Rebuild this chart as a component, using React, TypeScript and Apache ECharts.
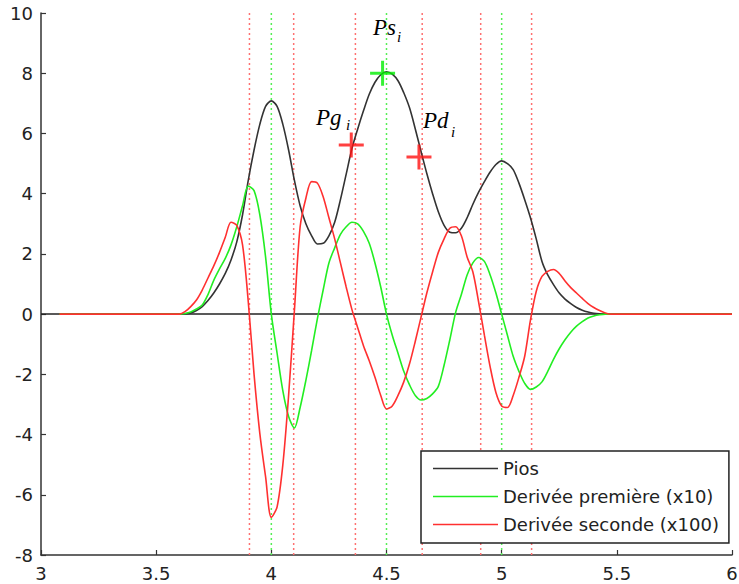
import React, { useEffect, useRef } from "react";
import * as echarts from "echarts";

// x positions (shared by the three curves)
const xs = [
  3.08,
  3.6, 3.625, 3.65, 3.675, 3.7, 3.725, 3.75, 3.775, 3.8, 3.825,
  3.85, 3.875, 3.9, 3.925, 3.95, 3.975, 4.0, 4.025, 4.05, 4.075,
  4.1, 4.125, 4.15, 4.175, 4.2, 4.225, 4.25, 4.275, 4.3, 4.325,
  4.35, 4.375, 4.4, 4.425, 4.45, 4.475, 4.5, 4.525, 4.55, 4.575,
  4.6, 4.625, 4.65, 4.675, 4.7, 4.725, 4.75, 4.775, 4.8, 4.825,
  4.85, 4.875, 4.9, 4.925, 4.95, 4.975, 5.0, 5.025, 5.05, 5.075,
  5.1, 5.125, 5.15, 5.175, 5.2, 5.225, 5.25, 5.275, 5.3, 5.325,
  5.35, 5.375, 5.4, 5.425, 5.45, 5.475,
  6.0,
];

const pios = [
  0,
  0, 0.01, 0.04, 0.12, 0.25, 0.45, 0.7, 1.0, 1.35, 1.8,
  2.4, 3.3, 4.45, 5.45, 6.3, 6.9, 7.08, 6.9, 6.3, 5.45,
  4.45, 3.6, 3.0, 2.6, 2.33, 2.35, 2.6, 3.05, 3.8, 4.65,
  5.5, 6.15, 6.75, 7.3, 7.7, 7.95, 8.05, 7.97, 7.75, 7.35,
  6.85, 6.15, 5.4, 4.67, 4.0, 3.4, 2.95, 2.72, 2.7, 2.85,
  3.2, 3.65, 4.05, 4.4, 4.72, 4.97, 5.09, 5.0, 4.8, 4.35,
  3.8, 3.2, 2.5, 1.75, 1.3, 0.98, 0.7, 0.5, 0.35, 0.22,
  0.13, 0.07, 0.03, 0.01, 0, 0,
  0,
];

const derivee1 = [
  0,
  0, 0.02, 0.07, 0.17, 0.3, 0.65, 1.12, 1.5, 1.85, 2.3,
  2.9, 3.6, 4.25, 4.1, 3.3, 1.9, 0, -1.3, -2.55, -3.4,
  -3.78, -3.1, -2.2, -1.2, -0.15, 0.8, 1.7, 2.2, 2.65, 2.9,
  3.05, 3.0, 2.75, 2.35, 1.7, 0.9, 0, -0.7, -1.3, -1.9,
  -2.35, -2.7, -2.85, -2.8, -2.65, -2.4, -1.7, -0.85, 0.05, 0.65,
  1.3, 1.7, 1.88, 1.75, 1.3, 0.7, 0, -0.7, -1.4, -1.9,
  -2.3, -2.5, -2.42, -2.25, -1.9, -1.5, -1.15, -0.85, -0.6, -0.4,
  -0.25, -0.13, -0.06, -0.02, 0, 0,
  0,
];

const derivee2 = [
  0,
  0, 0.08, 0.25, 0.47, 0.8, 1.2, 1.6, 2.05, 2.55, 3.05,
  2.95, 2.3, 0.4, -2.0, -3.96, -5.4, -6.75, -6.4, -5.0, -2.7,
  0.1, 2.9, 3.85, 4.4, 4.35, 3.9, 3.2, 2.5, 1.7, 0.9,
  0.15, -0.45, -1.05, -1.55, -2.1, -2.7, -3.15, -3.05, -2.7, -2.25,
  -1.65, -0.9, -0.1, 0.7, 1.4, 2.05, 2.5, 2.85, 2.9, 2.6,
  1.9, 1.4, 0.4, -0.7, -1.75, -2.6, -3.05, -3.1, -2.7, -2.1,
  -1.4, -0.2, 0.75, 1.25, 1.42, 1.48, 1.35, 1.1, 0.88, 0.7,
  0.52, 0.35, 0.22, 0.12, 0.04, 0,
  0,
];

// vertical dotted guides
const redGuides = [3.905, 4.097, 4.365, 4.655, 4.909, 5.13];
const greenGuides = [4.0, 4.5, 5.0];

// marked points
const markerLabels = ["Ps", "Pg", "Pd"];
const markerX = [4.483, 4.347, 4.641];
const markerY = [8.0, 5.62, 5.22];

const seriesNames = ["Pios", "Derivée première (x10)", "Derivée seconde (x100)"];
const xTicks = [3, 3.5, 4, 4.5, 5, 5.5, 6];

const Y_MIN = -8;
const Y_MAX = 10;

const PLUS = "path://M11,0H14V11H25V14H14V25H11V14H0V11H11Z";
const FONT = "DejaVu Sans";
const SERIF = "Liberation Serif";

export default function App() {
  const ref = useRef<HTMLDivElement>(null);

  useEffect(() => {
    if (!ref.current) return;
    const chart = echarts.init(ref.current, null, { renderer: "svg" });

    const guideSeries = (vals: number[], color: string) =>
      vals.map((v) => ({
        type: "line",
        silent: true,
        symbol: "none",
        z: 1,
        data: [
          [v, Y_MIN],
          [v, Y_MAX],
        ],
        lineStyle: { color, width: 1.5, type: [2, 3] },
      }));

    const curve = (name: string, ys: number[], color: string, z: number) => ({
      name,
      type: "line",
      symbol: "none",
      smooth: 0.3,
      z,
      data: xs.map((x, i) => [x, ys[i]]),
      lineStyle: { color, width: 1.6 },
      itemStyle: { color },
    });

    const option: any = {
      animation: false,
      backgroundColor: "#fff",
      grid: { left: 41, right: 7, top: 13, bottom: 29, containLabel: false, outerBoundsMode: "none" },
      xAxis: {
        type: "value",
        min: xTicks[0],
        max: xTicks[xTicks.length - 1],
        interval: 0.5,
        axisLine: { show: true, onZero: false, lineStyle: { color: "#333", width: 1.5 } },
        axisTick: { show: true, inside: true, length: 5, lineStyle: { color: "#333", width: 1.2 } },
        splitLine: { show: false },
        axisLabel: { color: "#222", fontFamily: FONT, fontSize: 18, margin: 9 },
      },
      yAxis: {
        type: "value",
        min: Y_MIN,
        max: Y_MAX,
        interval: 2,
        axisLine: { show: true, onZero: false, lineStyle: { color: "#333", width: 1.5 } },
        axisTick: { show: true, inside: true, length: 5, lineStyle: { color: "#333", width: 1.2 } },
        splitLine: { show: false },
        axisLabel: { color: "#222", fontFamily: FONT, fontSize: 18, margin: 8 },
      },
      legend: {
        show: true,
        data: seriesNames,
        orient: "vertical",
        left: 421,
        top: 451,
        icon: "rect",
        itemWidth: 65,
        itemHeight: 1.6,
        itemGap: 1,
        padding: [4, 10, 5, 12],
        backgroundColor: "#fff",
        borderColor: "#222",
        borderWidth: 1.5,
        borderRadius: 0,
        textStyle: { color: "#222", fontFamily: FONT, fontSize: 18, lineHeight: 27 },
      },
      series: [
        ...guideSeries(redGuides, "#ff7070"),
        ...guideSeries(greenGuides, "#55ee55"),
        {
          type: "line",
          silent: true,
          symbol: "none",
          z: 2,
          data: [
            [xTicks[0], 0],
            [xTicks[xTicks.length - 1], 0],
          ],
          lineStyle: { color: "#222", width: 1.5 },
        },
        curve(seriesNames[0], pios, "#333333", 3),
        curve(seriesNames[1], derivee1, "#22ee22", 4),
        curve(seriesNames[2], derivee2, "#ff3030", 5),
        {
          type: "scatter",
          silent: true,
          z: 6,
          symbol: PLUS,
          symbolSize: 25,
          data: markerX.map((x, i) => ({
            name: markerLabels[i],
            value: [x, markerY[i]],
            itemStyle: { color: i === 0 ? "#00ee00" : "#ff1010" },
          })),
        },
      ],
      graphic: [
        { type: "text", x: 373, y: 27, style: { text: "Ps", font: `italic 23px "${SERIF}"`, fill: "#000", verticalAlign: "middle" } },
        { type: "text", x: 397, y: 37, style: { text: "i", font: `italic 15px "${SERIF}"`, fill: "#000", verticalAlign: "middle" } },
        { type: "text", x: 316, y: 117, style: { text: "Pg", font: `italic 23px "${SERIF}"`, fill: "#000", verticalAlign: "middle" } },
        { type: "text", x: 346, y: 125, style: { text: "i", font: `italic 15px "${SERIF}"`, fill: "#000", verticalAlign: "middle" } },
        { type: "text", x: 423, y: 120, style: { text: "Pd", font: `italic 23px "${SERIF}"`, fill: "#000", verticalAlign: "middle" } },
        { type: "text", x: 451, y: 132, style: { text: "i", font: `italic 15px "${SERIF}"`, fill: "#000", verticalAlign: "middle" } },
      ],
    };

    chart.setOption(option);
    return () => chart.dispose();
  }, []);

  return (
    <div
      ref={ref}
      style={{ position: "fixed", left: 0, top: 0, width: 739, height: 584, background: "#fff" }}
    />
  );
}
